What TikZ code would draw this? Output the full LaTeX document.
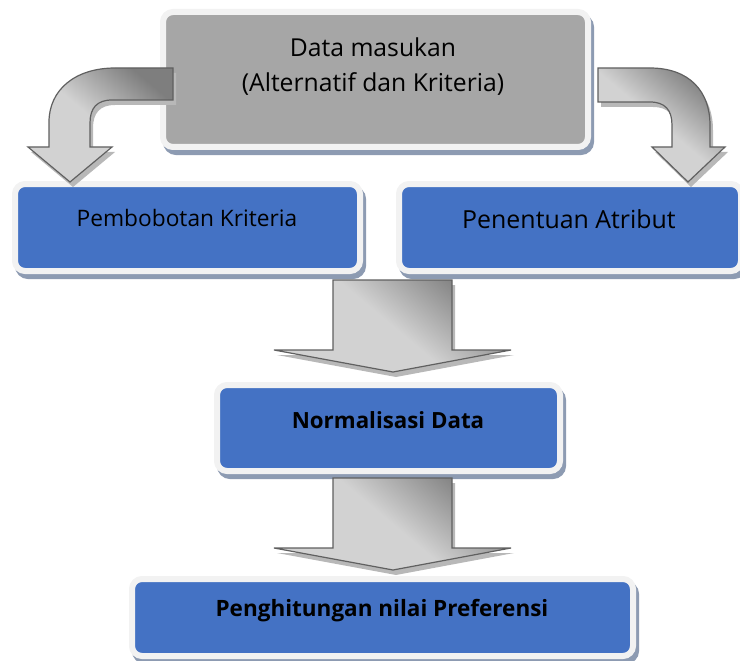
\documentclass[tikz,border=0pt]{standalone}
\usepackage{fontspec}
\setmainfont{Open Sans}
\definecolor{boxgray}{HTML}{A6A6A6}
\definecolor{boxblue}{HTML}{4472C4}
\definecolor{bordc}{HTML}{F2F2F2}
\definecolor{shadowc}{HTML}{8D9BB2}
\definecolor{arrline}{HTML}{606060}
\definecolor{arrdark}{HTML}{7E7E7E}
\definecolor{arrlight}{HTML}{D2D2D2}
\definecolor{arrshadow}{HTML}{B8B8B8}
\tikzset{
  flowbox/.style={rectangle, rounded corners=10pt, line width=6pt, draw=bordc, inner sep=0pt,
    preaction={draw=shadowc, fill=shadowc, transform canvas={xshift=3pt, yshift=-5pt}}},
  blockarrow/.style={draw=arrline, line width=1.2pt, line join=miter,
    shading=axis, top color=arrdark, bottom color=arrlight, middle color=arrlight, shading angle=-40,
    preaction={fill=arrshadow, transform canvas={xshift=3pt, yshift=-5pt}}},
  lbl/.style={text=black, inner sep=0pt, align=center}
}
\begin{document}
\begin{tikzpicture}[x=1pt, y=-1pt]
\useasboundingbox (0,0) rectangle (740,661);
% boxes
\node[flowbox, fill=boxgray, minimum width=425pt, minimum height=135pt] (dm) at (375.5,79.5) {};
\node[flowbox, fill=boxblue, minimum width=345pt, minimum height=87pt] (pk) at (187.5,227.5) {};
\node[flowbox, fill=boxblue, minimum width=342pt, minimum height=87pt] (pa) at (570,227.5) {};
\node[flowbox, fill=boxblue, minimum width=343pt, minimum height=86pt] (nd) at (388.5,428) {};
\node[flowbox, fill=boxblue, minimum width=501pt, minimum height=77pt] (pp) at (382.5,617.5) {};
% texts
\node[lbl, font=\fontsize{24.7}{35}\selectfont] (dmt) at (373,67) {Data masukan\\(Alternatif dan Kriteria)};
\node[lbl, font=\fontsize{22.7}{26}\selectfont] (pkt) at (187,218) {Pembobotan Kriteria};
\node[lbl, font=\fontsize{24.9}{28}\selectfont] (pat) at (569,219) {Penentuan Atribut};
\node[lbl, font=\bfseries\fontsize{22.3}{26}\selectfont] (ndt) at (388,420) {Normalisasi Data};
\node[lbl, font=\bfseries\fontsize{22.5}{26}\selectfont] (ppt) at (382,611) {Penghitungan nilai Preferensi};
% curved arrows
\path[blockarrow] (173,68) -- (115,68) .. controls (75,68) and (49,90) .. (49,122) -- (49,147)
  -- (28,147) -- (70,182) -- (112,147) -- (90,147) -- (90,123)
  .. controls (90,108) and (97,100) .. (112,100) -- (173,100) -- cycle;
\path[blockarrow] (598,68) -- (650,68) .. controls (690,68) and (710,92) .. (710,125) -- (710,147)
  -- (725,147) -- (688,182) -- (652,147) -- (672,147) -- (672,125)
  .. controls (672,110) and (665,102) .. (650,102) -- (598,102) -- cycle;
% straight arrows
\path[blockarrow] (333,280) -- (452,280) -- (452,350) -- (511,350) -- (393,372) -- (274,350) -- (333,350) -- cycle;
\path[blockarrow] (333,478) -- (452,478) -- (452,548) -- (511,548) -- (393,570) -- (274,548) -- (333,548) -- cycle;
\end{tikzpicture}
\end{document}
